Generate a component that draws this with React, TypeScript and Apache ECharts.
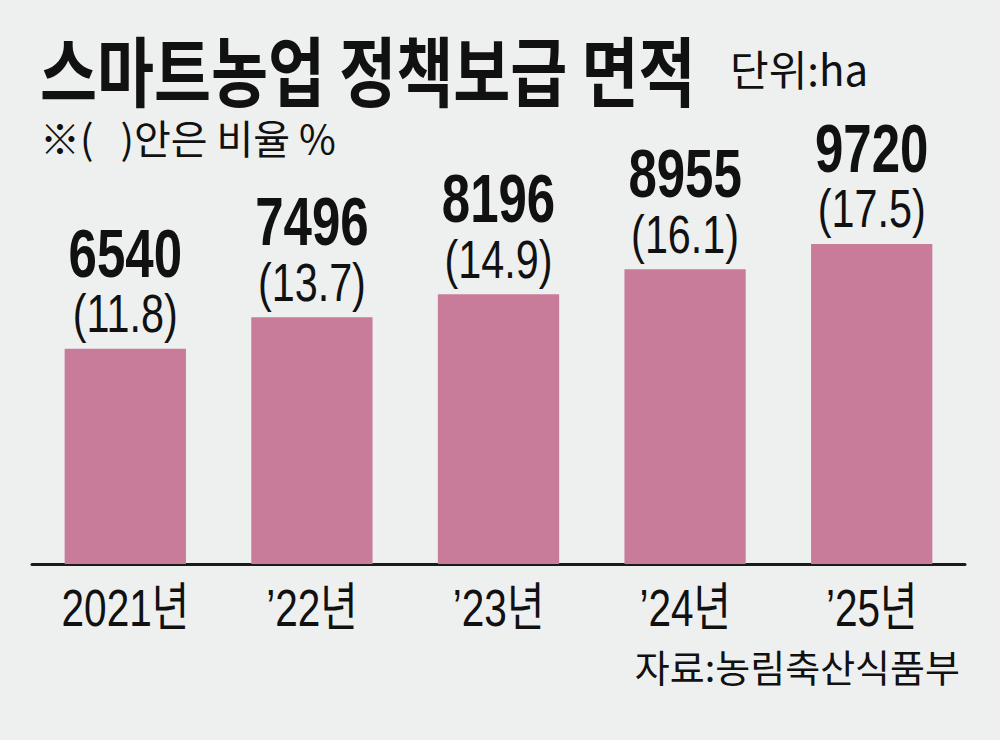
import React, { useEffect, useRef } from "react";
import * as echarts from "echarts";

const categories = ["2021년", "’22년", "’23년", "’24년", "’25년"];
const areaValues = [6540, 7496, 8196, 8955, 9720];
const shareValues = [11.8, 13.7, 14.9, 16.1, 17.5];

const titleText = "스마트농업 정책보급 면적";
const unitText = "단위:ha";
const noteText = "※(   )안은 비율 %";
const sourceText = "자료:농림축산식품부";

const LATIN = "'Liberation Sans', 'Noto Sans CJK KR', sans-serif";
const CJK = "'Noto Sans CJK KR', 'Noto Sans', sans-serif";

export default function App() {
  const ref = useRef<HTMLDivElement>(null);
  useEffect(() => {
    document.body.style.margin = "0";
    const chart = echarts.init(ref.current!, null, { renderer: "svg" });
    chart.setOption({
      animation: false,
      backgroundColor: "#eeefef",
      grid: { left: 32, right: 35, top: 169, bottom: 176 },
      xAxis: {
        type: "category",
        data: categories,
        axisLine: { show: true, lineStyle: { color: "#1a1a1a", width: 3 } },
        axisTick: { show: false },
        axisLabel: { show: false },
      },
      yAxis: {
        type: "value",
        min: 0,
        max: 12000,
        show: false,
        splitLine: { show: false },
      },
      series: [
        {
          type: "bar",
          data: areaValues,
          barWidth: "65%",
          itemStyle: { color: "#c97c9a" },
        },
        {
          type: "custom",
          silent: true,
          z: 10,
          data: areaValues.map((v, i) => [i, v]),
          renderItem: (params: any, api: any) => {
            const i = api.value(0);
            const v = api.value(1);
            const pt = api.coord([i, v]);
            return {
              type: "group",
              children: [
                {
                  type: "text",
                  x: pt[0],
                  y: pt[1] - 95,
                  scaleX: 0.75,
                  style: {
                    text: String(areaValues[i]),
                    fontSize: 68,
                    fontWeight: "bold",
                    fontFamily: LATIN,
                    fill: "#111",
                    align: "center",
                    verticalAlign: "middle",
                    textAlign: "center",
                    textVerticalAlign: "middle",
                  },
                },
                {
                  type: "text",
                  x: pt[0],
                  y: pt[1] - 35,
                  scaleX: 0.78,
                  style: {
                    text: `(${shareValues[i].toFixed(1)})`,
                    fontSize: 53,
                    fontFamily: LATIN,
                    fill: "#111",
                    align: "center",
                    verticalAlign: "middle",
                    textAlign: "center",
                    textVerticalAlign: "middle",
                  },
                },
              ],
            };
          },
        },
        {
          type: "custom",
          silent: true,
          z: 10,
          data: categories.map((c, i) => [i, 0]),
          renderItem: (params: any, api: any) => {
            const i = api.value(0);
            const pt = api.coord([i, 0]);
            return {
              type: "text",
              x: pt[0],
              y: pt[1] + 44,
              scaleX: 0.78,
              style: {
                text: categories[i],
                fontSize: 52,
                fontFamily: LATIN,
                fill: "#111",
                align: "center",
                verticalAlign: "middle",
                textAlign: "center",
                textVerticalAlign: "middle",
              },
            };
          },
        },
      ],
      graphic: [
        {
          type: "text",
          left: 40,
          top: 30,
          scaleY: 1.22,
          style: { text: titleText, fontSize: 62, fontWeight: "bold", fontFamily: CJK, fill: "#111" },
        },
        {
          type: "text",
          left: 730,
          top: 46,
          style: { text: unitText, fontSize: 42, fontFamily: CJK, fill: "#111" },
        },
        {
          type: "text",
          left: 40,
          top: 117,
          style: { text: noteText, fontSize: 40, fontFamily: CJK, fill: "#111" },
        },
        {
          type: "text",
          right: 40,
          top: 646,
          style: { text: sourceText, fontSize: 38, fontFamily: CJK, fill: "#111" },
        },
      ],
    });
    return () => chart.dispose();
  }, []);
  return (
    <div
      ref={ref}
      style={{ position: "fixed", left: 0, top: 0, width: 1000, height: 740 }}
    />
  );
}
